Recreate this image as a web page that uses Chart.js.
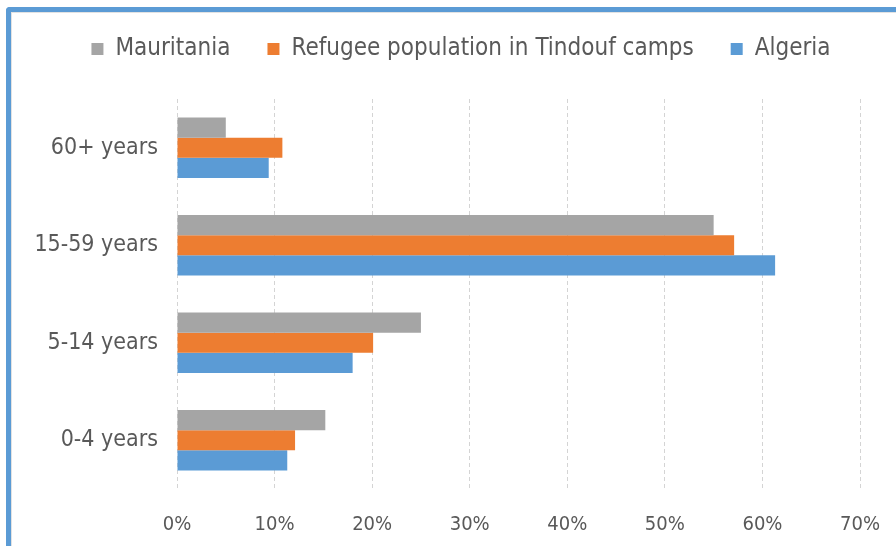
<!DOCTYPE html>
<html>
<head>
<meta charset="utf-8">
<script src="https://cdn.jsdelivr.net/npm/chart.js@4/dist/chart.umd.min.js"></script>
<style>
    html, body { margin: 0; padding: 0; background: #fff; }
    #wrap { position: relative; width: 896px; height: 546px; overflow: hidden; }
    #frame {
        position: absolute; left: 6px; top: 7px; width: 1000px; height: 1000px;
        border-top: 5px solid #5b9bd5; border-left: 5px solid #5b9bd5;
        border-top-left-radius: 4px; box-sizing: border-box;
        box-shadow: inset 1px 1px 0 #e2e2e2;
    }
    #chartJS { position: absolute; left: 0; top: 0; }
</style>
</head>
<body>
<div id="wrap">
    <div id="frame"></div>
    <canvas id="chartJS" width="896" height="546"></canvas>
</div>
<script>
// categories, top to bottom
const ageGroups = ["60+ years", "15-59 years", "5-14 years", "0-4 years"];
// share of population, in percent
const mauritania = [5.0, 55.0, 25.0, 15.2];
const refugees = [10.8, 57.1, 20.1, 12.1];
const algeria = [9.4, 61.3, 18.0, 11.3];
const xTicks = [0, 10, 20, 30, 40, 50, 60, 70];

const fontFamily = "'DejaVu Sans Condensed', 'DejaVu Sans', sans-serif";
const textColor = "#595959";

// fixed legend block height, and nudge the legend row a bit to the right
const legendTweak = {
    id: "legendTweak",
    beforeInit(chart) {
        const fit = chart.legend.fit;
        chart.legend.fit = function () {
            fit.bind(chart.legend)();
            this.height = 99;
        };
    },
    afterLayout(chart) {
        chart.legend.left += 31;
        chart.legend.right += 31;
        chart.legend.adjustHitBoxes();
    }
};

const ctx = document.getElementById("chartJS").getContext("2d");
const chart = new Chart(ctx, {
    type: "bar",
    data: {
        labels: ageGroups,
        datasets: [{
            label: "Mauritania",
            backgroundColor: "#a5a5a5",
            data: mauritania
        }, {
            label: "Refugee population in Tindouf camps",
            backgroundColor: "#ed7d31",
            data: refugees
        }, {
            label: "Algeria",
            backgroundColor: "#5b9bd5",
            data: algeria
        }]
    },
    options: {
        indexAxis: "y",
        responsive: false,
        animation: false,
        layout: { padding: { left: 0, right: 36, top: 0, bottom: 0 } },
        datasets: {
            bar: { categoryPercentage: 0.62, barPercentage: 1.0 }
        },
        plugins: {
            legend: {
                position: "top",
                labels: {
                    boxWidth: 12,
                    boxHeight: 12,
                    padding: 37,
                    color: textColor,
                    font: { family: fontFamily, size: 24 }
                }
            },
            tooltip: { enabled: false }
        },
        scales: {
            x: {
                min: 0,
                max: 70,
                afterBuildTicks: (scale) => {
                    scale.ticks = xTicks.map(v => ({ value: v }));
                },
                afterFit: (scale) => {
                    scale.height = 57;
                    scale.paddingLeft = 0;
                    scale.paddingRight = 0;
                },
                ticks: {
                    padding: 24,
                    color: textColor,
                    font: { family: fontFamily, size: 20 },
                    callback: (v) => v + "%"
                },
                grid: { color: "#d4d4d4", lineWidth: 1, drawTicks: false },
                border: { display: false, dash: [4, 3] }
            },
            y: {
                afterFit: (scale) => { scale.width = 177; },
                ticks: {
                    padding: 19,
                    color: textColor,
                    font: { family: fontFamily, size: 23 }
                },
                grid: { display: false, drawTicks: false },
                border: { display: false }
            }
        }
    },
    plugins: [legendTweak]
});
</script>
</body>
</html>
